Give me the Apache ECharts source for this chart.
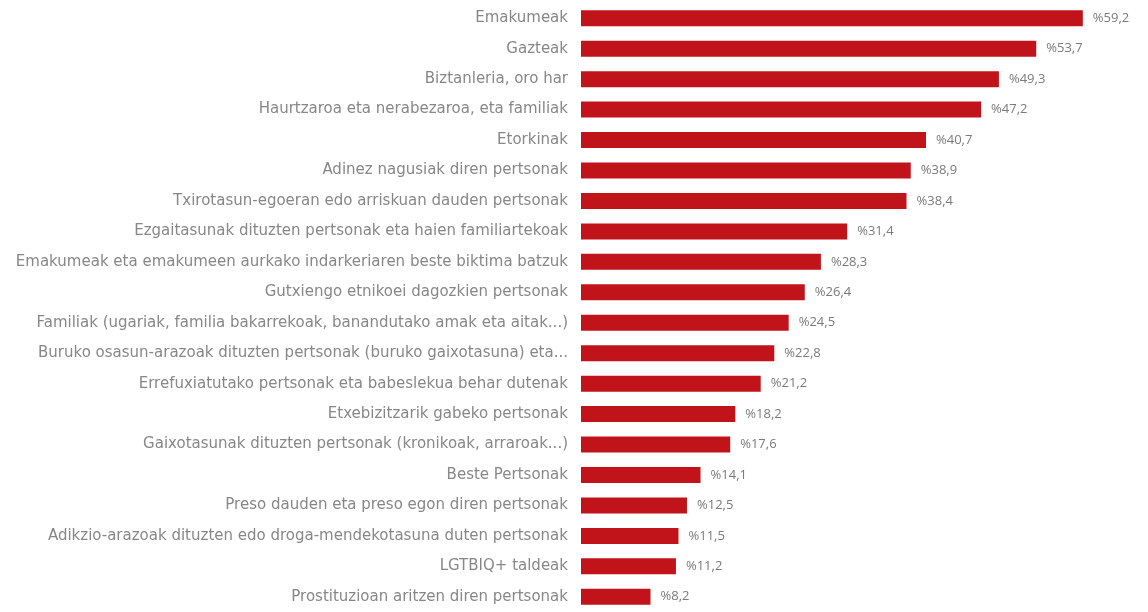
<!DOCTYPE html>
<html>
<head>
<meta charset="utf-8">
<script src="https://cdn.jsdelivr.net/npm/echarts@6/dist/echarts.min.js"></script>
<style>html,body{margin:0;padding:0;background:#fff}#c{width:1148px;height:612px}</style>
</head>
<body>
<div id="c"></div>
<script>
const categories = [
  "Emakumeak",
  "Gazteak",
  "Biztanleria, oro har",
  "Haurtzaroa eta nerabezaroa, eta familiak",
  "Etorkinak",
  "Adinez nagusiak diren pertsonak",
  "Txirotasun-egoeran edo arriskuan dauden pertsonak",
  "Ezgaitasunak dituzten pertsonak eta haien familiartekoak",
  "Emakumeak eta emakumeen aurkako indarkeriaren beste biktima batzuk",
  "Gutxiengo etnikoei dagozkien pertsonak",
  "Familiak (ugariak, familia bakarrekoak, banandutako amak eta aitak...)",
  "Buruko osasun-arazoak dituzten pertsonak (buruko gaixotasuna) eta...",
  "Errefuxiatutako pertsonak eta babeslekua behar dutenak",
  "Etxebizitzarik gabeko pertsonak",
  "Gaixotasunak dituzten pertsonak (kronikoak, arraroak...)",
  "Beste Pertsonak",
  "Preso dauden eta preso egon diren pertsonak",
  "Adikzio-arazoak dituzten edo droga-mendekotasuna duten pertsonak",
  "LGTBIQ+ taldeak",
  "Prostituzioan aritzen diren pertsonak"
];
const values = [59.2, 53.7, 49.3, 47.2, 40.7, 38.9, 38.4, 31.4, 28.3, 26.4, 24.5, 22.8, 21.2, 18.2, 17.6, 14.1, 12.5, 11.5, 11.2, 8.2];

const chart = echarts.init(document.getElementById('c'), null, {renderer: 'canvas'});
chart.setOption({
  animation: false,
  grid: {left: 581, top: 3, width: 551, height: 614, containLabel: false},
  xAxis: {type: 'value', min: 0, max: 65, show: false},
  yAxis: {
    type: 'category', data: categories, inverse: true,
    axisLine: {show: false}, axisTick: {show: false},
    axisLabel: {color: '#878787', fontSize: 15, fontFamily: 'DejaVu Sans', margin: 13}
  },
  series: [{
    type: 'bar', data: values, barWidth: 16,
    itemStyle: {color: '#c0141a'},
    label: {
      show: true, position: 'right', distance: 10,
      color: '#7a7a7a', fontSize: 13, fontFamily: 'Open Sans',
      formatter: p => '%' + p.value.toFixed(1).replace('.', ',')
    }
  }]
});
</script>
</body>
</html>
